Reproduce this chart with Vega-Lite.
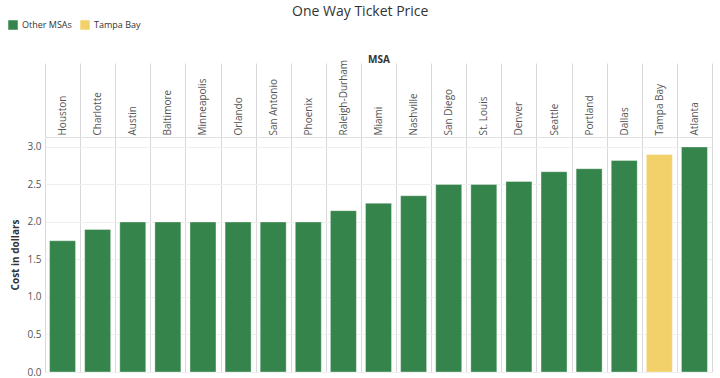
{
  "$schema": "https://vega.github.io/schema/vega-lite/v6.json",
  "width": 667,
  "height": 235,
  "autosize": {"type": "none"},
  "padding": {"left": 45, "top": 137, "right": 8, "bottom": 6},
  "background": "#ffffff",
  "title": {
    "text": "One Way Ticket Price",
    "font": "Open Sans",
    "fontSize": 14,
    "fontWeight": "normal",
    "color": "#333333",
    "anchor": "middle",
    "frame": "bounds",
    "offset": 1
  },
  "data": {
    "values": [
      {"msa": "Houston", "cost": 1.75, "group": "Other MSAs"},
      {"msa": "Charlotte", "cost": 1.90, "group": "Other MSAs"},
      {"msa": "Austin", "cost": 2.00, "group": "Other MSAs"},
      {"msa": "Baltimore", "cost": 2.00, "group": "Other MSAs"},
      {"msa": "Minneapolis", "cost": 2.00, "group": "Other MSAs"},
      {"msa": "Orlando", "cost": 2.00, "group": "Other MSAs"},
      {"msa": "San Antonio", "cost": 2.00, "group": "Other MSAs"},
      {"msa": "Phoenix", "cost": 2.00, "group": "Other MSAs"},
      {"msa": "Raleigh-Durham", "cost": 2.15, "group": "Other MSAs"},
      {"msa": "Miami", "cost": 2.25, "group": "Other MSAs"},
      {"msa": "Nashville", "cost": 2.35, "group": "Other MSAs"},
      {"msa": "San Diego", "cost": 2.50, "group": "Other MSAs"},
      {"msa": "St. Louis", "cost": 2.50, "group": "Other MSAs"},
      {"msa": "Denver", "cost": 2.54, "group": "Other MSAs"},
      {"msa": "Seattle", "cost": 2.67, "group": "Other MSAs"},
      {"msa": "Portland", "cost": 2.71, "group": "Other MSAs"},
      {"msa": "Dallas", "cost": 2.82, "group": "Other MSAs"},
      {"msa": "Tampa Bay", "cost": 2.90, "group": "Tampa Bay"},
      {"msa": "Atlanta", "cost": 3.00, "group": "Other MSAs"}
    ]
  },
  "mark": {"type": "bar", "width": {"band": 0.74}, "stroke": "#ffffff", "strokeOpacity": 0.35, "strokeWidth": 1},
  "encoding": {
    "x": {
      "field": "msa",
      "type": "nominal",
      "sort": null,
      "scale": {"paddingInner": 0, "paddingOuter": 0},
      "axis": {
        "orient": "top",
        "title": "MSA",
        "titleFont": "Open Sans",
        "titleFontSize": 10,
        "titleFontWeight": "bold",
        "titleColor": "#333333",
        "titlePadding": -5,
        "labelAngle": -90,
        "labelAlign": "left",
        "labelBaseline": "middle",
        "labelPadding": -72,
        "labelFont": "Open Sans",
        "labelFontSize": 10,
        "labelColor": "#555555",
        "tickBand": "extent",
        "tickSize": 74,
        "tickColor": "#d9d9d9",
        "tickWidth": 1,
        "domainColor": "#e0e0e0",
        "grid": true,
        "gridColor": "#d9d9d9",
        "gridWidth": 1
      }
    },
    "y": {
      "field": "cost",
      "type": "quantitative",
      "scale": {"domain": [0, 3.133], "nice": false, "zero": true},
      "axis": {
        "title": "Cost in dollars",
        "titleFont": "Open Sans",
        "titleFontSize": 10,
        "titleFontWeight": "bold",
        "titleColor": "#333333",
        "titlePadding": 6,
        "values": [0, 0.5, 1, 1.5, 2, 2.5, 3],
        "format": ".1f",
        "labelFont": "Open Sans",
        "labelFontSize": 10,
        "labelColor": "#555555",
        "labelPadding": 4,
        "domain": false,
        "ticks": false,
        "gridColor": "#efefef",
        "gridWidth": 1
      }
    },
    "color": {
      "field": "group",
      "type": "nominal",
      "scale": {"domain": ["Other MSAs", "Tampa Bay"], "range": ["#35844b", "#f2d16b"]},
      "legend": {
        "title": null,
        "orient": "none",
        "legendX": -37,
        "legendY": -117,
        "direction": "horizontal",
        "symbolType": "square",
        "symbolSize": 90,
        "symbolStrokeWidth": 0,
        "labelFont": "Open Sans",
        "labelFontSize": 9,
        "labelColor": "#333333",
        "columnPadding": 8
      }
    }
  },
  "config": {"view": {"stroke": null}}
}
